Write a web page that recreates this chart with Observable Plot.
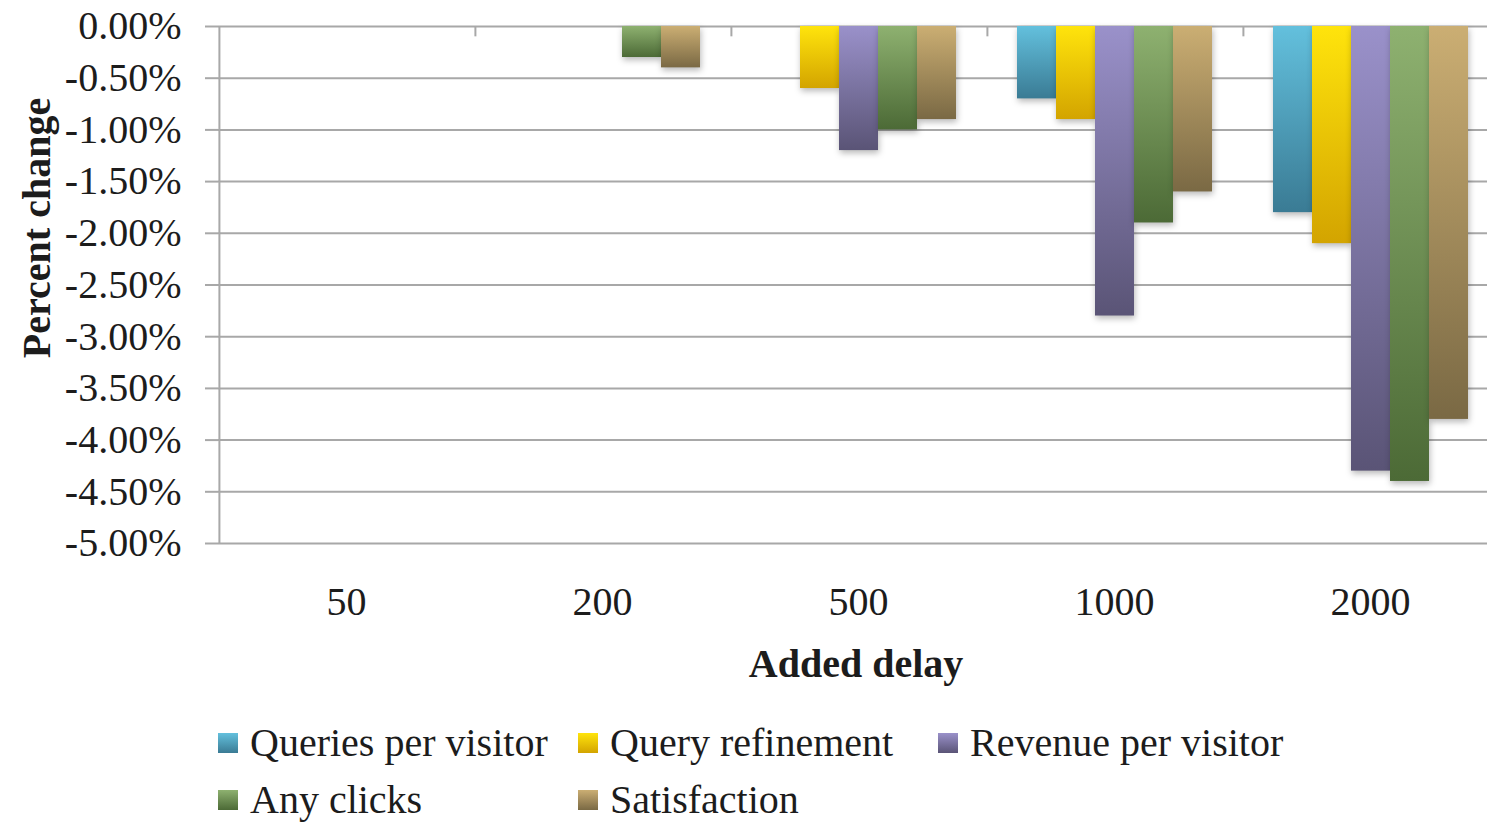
<!DOCTYPE html>
<html>
<head>
<meta charset="utf-8">
<script src="https://cdn.jsdelivr.net/npm/d3@7"></script>
<script src="https://cdn.jsdelivr.net/npm/@observablehq/plot@0.6"></script>
<style>
  html, body { margin: 0; padding: 0; background: #fff; overflow: hidden; }
  #wrap { position: relative; width: 1487px; height: 824px; font-family: "Liberation Serif", serif; color: #1c1c1c; }
  #chart svg { display: block; }
  .axis-title { position: absolute; font-size: 40px; font-weight: bold; line-height: 1; white-space: nowrap; }
  #ytitle { left: 37px; top: 228px; transform: translate(-50%, -50%) rotate(-90deg); }
  #xtitle { left: 856px; top: 664px; transform: translate(-50%, -50%); }
  #legend { position: absolute; left: 218px; top: 714px; display: grid; grid-template-columns: 360px 360px 360px; }
  .item { display: flex; align-items: center; height: 57px; font-size: 40px; line-height: 1; white-space: nowrap; }
  .swatch { width: 20px; height: 20px; margin-right: 12px; flex: none; }
</style>
</head>
<body>
<div id="wrap">
  <div id="chart"></div>
  <div id="ytitle" class="axis-title">Percent change</div>
  <div id="xtitle" class="axis-title">Added delay</div>
  <div id="legend"></div>
</div>
<script>
// Added delay (ms) on the x axis
const delays = ["50", "200", "500", "1000", "2000"];

// Metrics, in legend / bar order
const seriesNames = ["Queries per visitor", "Query refinement", "Revenue per visitor", "Any clicks", "Satisfaction"];

// Percent change for each delay
const queriesPerVisitor = [0, 0, 0, -0.7, -1.8];
const queryRefinement   = [0, 0, -0.6, -0.9, -2.1];
const revenuePerVisitor = [0, 0, -1.2, -2.8, -4.3];
const anyClicks         = [0, -0.3, -1.0, -1.9, -4.4];
const satisfaction      = [0, -0.4, -0.9, -1.6, -3.8];

// Y tick values
const yTicks = [0, -0.5, -1, -1.5, -2, -2.5, -3, -3.5, -4, -4.5, -5];

// Gradient stops per metric (top, bottom)
const seriesColors = [
  ["#63c0dd", "#3a7b94"],
  ["#ffe40c", "#d3a400"],
  ["#9a91ca", "#5a5476"],
  ["#8eb170", "#4c6a36"],
  ["#cbae73", "#7a6944"]
];

const seriesValues = [queriesPerVisitor, queryRefinement, revenuePerVisitor, anyClicks, satisfaction];
const rows = seriesNames.flatMap((s, k) => delays.map((d, i) => ({delay: d, series: s, value: seriesValues[k][i]})));

const gridColor = "#a8a8a8";
const paddingOuter = 0.765;
const plotWidth = 1498, marginLeft = 218;
const cellWidth = (plotWidth - marginLeft) / delays.length;
const bandwidth = cellWidth / (seriesNames.length + 2 * paddingOuter);
// offset from the first band's centre back to the left edge of its delay group
const edgeOffset = -(paddingOuter + 0.5) * bandwidth;

const plot = Plot.plot({
  width: plotWidth,
  height: 700,
  marginLeft,
  marginRight: 0,
  marginTop: 26,
  marginBottom: 157,
  style: {
    fontFamily: '"Liberation Serif", serif',
    fontSize: "40px",
    color: "#1c1c1c",
    background: "transparent",
    maxWidth: "none",
    overflow: "visible"
  },
  fx: {domain: delays, padding: 0, label: null},
  x: {domain: seriesNames, paddingInner: 0, paddingOuter, axis: null},
  y: {domain: [-5, 0], label: null},
  marks: [
    Plot.gridY(yTicks, {stroke: gridColor, strokeOpacity: 1, strokeWidth: 2}),
    // vertical value axis line
    Plot.ruleX([{delay: delays[0], series: seriesNames[0]}], {
      fx: "delay", x: "series", y1: -5, y2: 0, dx: edgeOffset, stroke: gridColor, strokeWidth: 2
    }),
    // small ticks between delay groups
    Plot.ruleX(delays.slice(1).map(d => ({delay: d, series: seriesNames[0]})), {
      fx: "delay", x: "series", y1: 0, y2: -0.1, dx: edgeOffset, stroke: gridColor, strokeWidth: 2
    }),
    ...seriesNames.map((s, k) => Plot.barY(rows.filter(r => r.series === s), {
      fx: "delay", x: "series", y: "value", fill: `url(#bar-grad-${k})`
    })),
    Plot.axisY(yTicks, {
      tickSize: 13, tickPadding: 24, stroke: gridColor, strokeWidth: 2, fill: "#1c1c1c",
      tickFormat: d => d.toFixed(2) + "%", label: null
    }),
    Plot.axisFx({anchor: "bottom", tickSize: 0, tickPadding: 43, fill: "#1c1c1c", label: null})
  ]
});

// vertical gradients for the bars
const defs = d3.select(plot).insert("defs", ":first-child");
seriesColors.forEach(([top, bottom], k) => {
  const g = defs.append("linearGradient")
    .attr("id", `bar-grad-${k}`)
    .attr("x1", 0).attr("y1", 0).attr("x2", 0).attr("y2", 1);
  g.append("stop").attr("offset", "0%").attr("stop-color", top);
  g.append("stop").attr("offset", "100%").attr("stop-color", bottom);
});
d3.select(plot).selectAll('g[aria-label="bar"]')
  .style("filter", "drop-shadow(1px 3px 3px rgba(0,0,0,0.28))");

document.getElementById("chart").appendChild(plot);

// legend
const legend = d3.select("#legend");
seriesNames.forEach((s, k) => {
  const item = legend.append("div").attr("class", "item");
  if (k === 3) item.style("grid-column", "1");
  item.append("div").attr("class", "swatch")
    .style("background", `linear-gradient(${seriesColors[k][0]}, ${seriesColors[k][1]})`);
  item.append("span").text(s);
});
</script>
</body>
</html>
